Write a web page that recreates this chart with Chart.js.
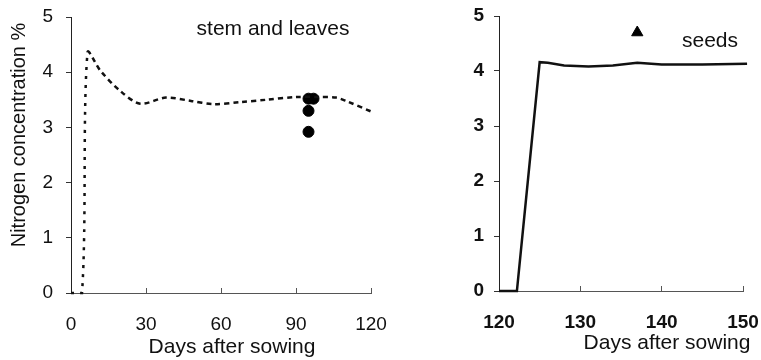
<!DOCTYPE html>
<html>
<head>
<meta charset="utf-8">
<script src="https://cdn.jsdelivr.net/npm/chart.js@4/dist/chart.umd.min.js"></script>
<style>
    body { margin: 0; background: #fff; }
    #wrap { position: relative; width: 761px; height: 360px; overflow: hidden; }
    #leftBox { position: absolute; left: 0; top: 0; width: 400px; height: 360px; }
    #rightBox { position: absolute; left: 380px; top: 0; width: 381px; height: 360px; }
</style>
</head>
<body>
<div id="wrap">
    <div id="leftBox"><canvas id="stemChart"></canvas></div>
    <div id="rightBox"><canvas id="seedChart"></canvas></div>
</div>
<script>
// DATOS

// tallo y hojas (curva simulada)
const stemDays = [0, 4.4, 6.6, 11.7, 19.7, 27.7, 38, 48, 57, 68, 78, 90, 100, 106, 110, 121];
const stemN = [0, 0, 4.36, 4.03, 3.66, 3.43, 3.54, 3.48, 3.42, 3.46, 3.5, 3.55, 3.55, 3.54, 3.48, 3.27];
// tallo y hojas (observados)
const stemObsDays = [95, 97, 95, 95];
const stemObsN = [3.52, 3.52, 3.30, 2.92];

// semillas (curva simulada)
const seedDays = [120, 122.2, 125, 126, 128, 131, 134, 137, 140, 145, 150.5];
const seedN = [0, 0, 4.16, 4.15, 4.1, 4.08, 4.1, 4.15, 4.12, 4.12, 4.13];
// semillas (observado)
const seedObsDays = [137];
const seedObsN = [4.7];

// ticks
const stemTicks = [0, 30, 60, 90, 120];
const seedTicks = [120, 130, 140, 150];
const nTicks = [0, 1, 2, 3, 4, 5];

const toPoints = (xs, ys) => xs.map((x, i) => ({ x: x, y: ys[i] }));

const FONT = 'Liberation Sans, Arial, sans-serif';

// Plugin para textos sueltos (titulos y rotulos)
const textsPlugin = {
    id: 'texts',
    afterDraw(chart, args, opts) {
        const ctx = chart.ctx;
        (opts.items || []).forEach(t => {
            ctx.save();
            ctx.fillStyle = '#111';
            ctx.font = (t.size || 21) + 'px ' + FONT;
            ctx.textAlign = 'center';
            ctx.textBaseline = 'middle';
            ctx.translate(t.x, t.y);
            if (t.rotate) ctx.rotate(t.rotate);
            ctx.fillText(t.text, 0, 0);
            ctx.restore();
        });
    }
};

// escalas comunes
function yScale(width, pad, weight, dash) {
    return {
        min: 0,
        max: 5,
        afterBuildTicks: (scale) => { scale.ticks = nTicks.map(v => ({ value: v })); },
        afterFit: (scale) => { scale.width = width; scale.paddingTop = 0; scale.paddingBottom = 0; },
        ticks: { font: { size: 19, family: FONT, weight: weight }, color: '#111', padding: pad },
        grid: { drawOnChartArea: false, tickLength: 5, color: '#333' },
        border: { color: '#222', width: 1, dash: dash }
    };
}

function xScale(min, max, ticks, height, weight, dash) {
    return {
        type: 'linear',
        min: min,
        max: max,
        afterBuildTicks: (scale) => { scale.ticks = ticks.map(v => ({ value: v })); },
        afterFit: (scale) => { scale.height = height; scale.paddingLeft = 0; scale.paddingRight = 0; },
        ticks: { font: { size: 19, family: FONT, weight: weight }, color: '#111', padding: 25, maxRotation: 0 },
        grid: { drawOnChartArea: false, tickLength: -5, color: '#555' },
        border: { color: '#555', width: 1, dash: dash }
    };
}

// Grafica izquierda: tallo y hojas
const ctx1 = document.getElementById('stemChart').getContext('2d');
const stemChart = new Chart(ctx1, {
    type: 'line',
    data: {
        datasets: [{
            data: toPoints(stemDays, stemN),
            borderColor: '#111',
            borderWidth: 2.5,
            pointRadius: 0,
            tension: 0.3,
            clip: false,
            segment: {
                borderDash: c => c.p1.parsed.x <= 7 ? [3, 6] : [5, 4]
            }
        }, {
            type: 'scatter',
            data: toPoints(stemObsDays, stemObsN),
            backgroundColor: '#000',
            borderColor: '#000',
            pointRadius: 5.5
        }]
    },
    options: {
        responsive: true,
        maintainAspectRatio: false,
        animation: false,
        layout: { padding: { left: 0, right: 29, top: 17, bottom: 0 } },
        plugins: {
            legend: { display: false },
            tooltip: { enabled: false },
            texts: {
                items: [
                    { text: 'Nitrogen concentration %', x: 19, y: 135, size: 20, rotate: -Math.PI / 2 },
                    { text: 'Days after sowing', x: 232, y: 347 },
                    { text: 'stem and leaves', x: 273, y: 29 }
                ]
            }
        },
        scales: {
            x: xScale(0, 120, stemTicks, 67, 'normal', [6, 3, 1, 3]),
            y: yScale(71, 13, 'normal', [5, 2, 1, 2])
        }
    },
    plugins: [textsPlugin]
});

// Grafica derecha: semillas
const ctx2 = document.getElementById('seedChart').getContext('2d');
const seedChart = new Chart(ctx2, {
    type: 'line',
    data: {
        datasets: [{
            data: toPoints(seedDays, seedN),
            borderColor: '#111',
            borderWidth: 2.5,
            pointRadius: 0,
            tension: 0,
            clip: false
        }, {
            type: 'scatter',
            data: toPoints(seedObsDays, seedObsN),
            pointStyle: 'triangle',
            backgroundColor: '#000',
            borderColor: '#000',
            pointRadius: 6.5
        }]
    },
    options: {
        responsive: true,
        maintainAspectRatio: false,
        animation: false,
        layout: { padding: { left: 0, right: 18, top: 16, bottom: 0 } },
        plugins: {
            legend: { display: false },
            tooltip: { enabled: false },
            texts: {
                items: [
                    { text: 'Days after sowing', x: 287, y: 343 },
                    { text: 'seeds', x: 330, y: 41 }
                ]
            }
        },
        scales: {
            x: xScale(120, 150, seedTicks, 69, 'bold', []),
            y: yScale(119, 10, 'bold', [])
        }
    },
    plugins: [textsPlugin]
});
</script>
</body>
</html>
